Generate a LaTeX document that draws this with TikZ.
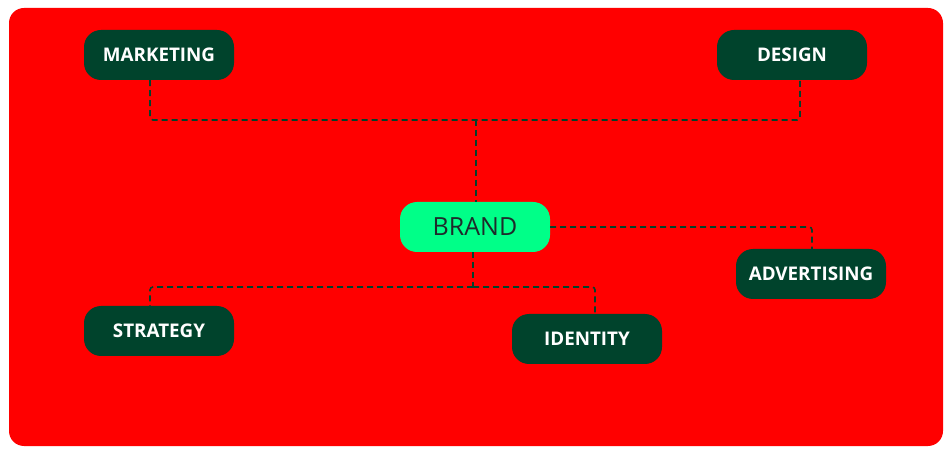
\documentclass[tikz,border=0pt]{standalone}
\usepackage{fontspec}
\setmainfont{Open Sans}
\definecolor{deepgreen}{HTML}{00432C}
\definecolor{springgr}{HTML}{00FF88}
\definecolor{brandtext}{HTML}{1E2B2B}
\begin{document}
\begin{tikzpicture}[x=1pt,y=-1pt,
  topic/.style={rectangle,rounded corners=17pt,fill=deepgreen,text=white,font=\bfseries\fontsize{18.8}{22}\selectfont,minimum width=150pt,minimum height=50pt,inner sep=0pt},
  hub/.style={rectangle,rounded corners=17pt,fill=springgr,text=brandtext,font=\fontsize{25}{29}\selectfont,minimum width=150pt,minimum height=50pt,inner sep=0pt},
  link/.style={draw=deepgreen,line width=1.6pt,dash pattern=on 6pt off 4pt,rounded corners=3pt}]
  \useasboundingbox (0,0) rectangle (951,462);
  \fill[red,rounded corners=15pt] (9,8) rectangle (943,446);

  \node[topic] (mkt) at (159,55) {MARKETING};
  \node[topic] (des) at (792,55) {DESIGN};
  \node[hub] (brand) at (475,227) {BRAND};
  \node[topic] (adv) at (811,274) {ADVERTISING};
  \node[topic] (str) at (159,331) {STRATEGY};
  \node[topic] (idt) at (587,339) {IDENTITY};

  \coordinate (up) at (476,120);
  \coordinate (down) at (473,287);

  \draw[link] ([xshift=-9pt]mkt.south) |- (up) -| ([xshift=8pt]des.south);
  \draw[link] (up) -- ([xshift=1pt]brand.north);
  \draw[link] (brand.east) -| ([xshift=1pt]adv.north);
  \draw[link] ([xshift=-2pt]brand.south) -- (down);
  \draw[link] (down) -| ([xshift=-9pt]str.north);
  \draw[link] (down) -| ([xshift=8pt]idt.north);
\end{tikzpicture}
\end{document}
